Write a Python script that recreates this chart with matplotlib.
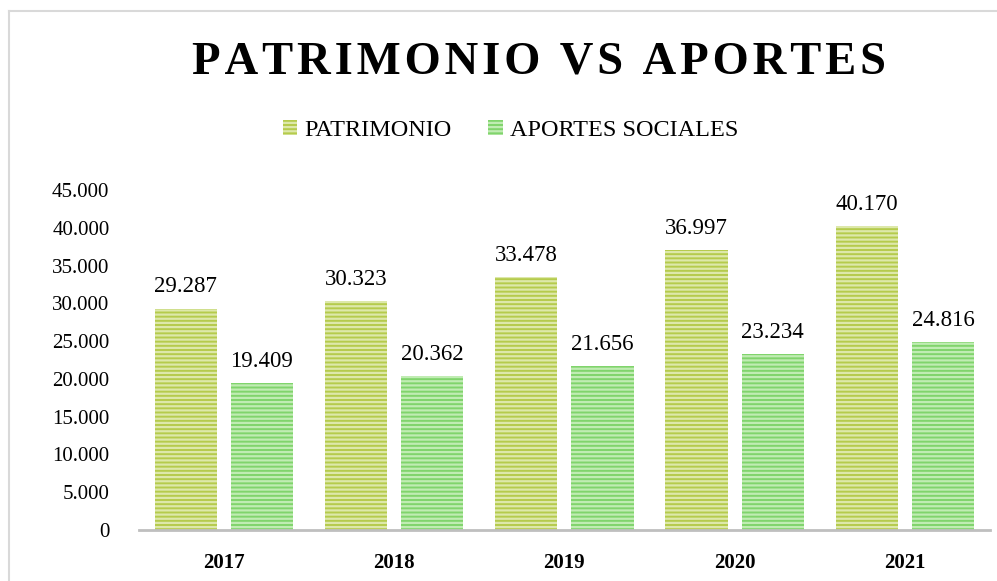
import matplotlib.pyplot as plt
from matplotlib.lines import Line2D
import numpy as np

years = ['2017', '2018', '2019', '2020', '2021']
patrimonio = [29287, 30323, 33478, 36997, 40170]
aportes = [19409, 20362, 21656, 23234, 24816]
yticks = [0, 5000, 10000, 15000, 20000, 25000, 30000, 35000, 40000, 45000]
title = 'PATRIMONIO VS APORTES'


def fmt(v):
    # separador de miles con punto
    return f'{v:,}'.replace(',', '.')


def main():
    plt.rcParams['font.family'] = ['Liberation Serif', 'DejaVu Serif']
    plt.rcParams['hatch.linewidth'] = 1.6

    fig = plt.figure(figsize=(9.97, 5.81), dpi=100)
    ax = fig.add_axes([0.139, 0.088, 0.854, 0.585])

    x = np.arange(len(years))
    w = 0.365
    off = 0.224
    b1 = ax.bar(x - off, patrimonio, w, color='#b5cb4c', edgecolor='#dde8aa',
                linewidth=0, hatch='----', label='PATRIMONIO')
    b2 = ax.bar(x + off, aportes, w, color='#80d46c', edgecolor='#c0ecb3',
                linewidth=0, hatch='----', label='APORTES SOCIALES')

    for bars in (b1, b2):
        for r in bars:
            ax.text(r.get_x() + r.get_width() / 2, r.get_height() + 1500,
                    fmt(int(r.get_height())), ha='center', va='bottom',
                    fontsize=16.5, clip_on=False)

    ax.set_xlim(-0.5, 4.5)
    ax.set_ylim(0, 45000)
    ax.set_xticks(x)
    ax.set_xticklabels(years, fontsize=15, fontweight='bold')
    ax.set_yticks(yticks)
    ax.set_yticklabels([fmt(v) for v in yticks], fontsize=15)
    ax.tick_params(length=0)
    ax.tick_params(axis='x', pad=17)
    ax.tick_params(axis='y', pad=21)
    for s in ('top', 'right', 'left'):
        ax.spines[s].set_visible(False)
    ax.spines['bottom'].set_color('#bfbfbf')
    ax.spines['bottom'].set_linewidth(2)

    # titulo con espaciado entre letras, ajustado al ancho del original
    spaced = '\u200a'.join(title)
    t = fig.text(0.541, 0.893, spaced, ha='center', va='center',
                 fontsize=40, fontweight='bold')
    fig.canvas.draw()
    width = t.get_window_extent().width
    t.set_fontsize(40 * 695 / width)

    fig.legend(handles=[b1, b2], loc='center', bbox_to_anchor=(0.512, 0.776),
               ncol=2, frameon=False, fontsize=17.5, handlelength=0.6,
               handleheight=0.6, columnspacing=1.5, handletextpad=0.3)

    fig.add_artist(Line2D([0.009, 0.009], [0, 0.981], color='#d9d9d9', lw=1.5))
    fig.add_artist(Line2D([0.009, 1], [0.981, 0.981], color='#d9d9d9', lw=1.5))

    fig.savefig('out.png', dpi=100)


if __name__ == '__main__':
    main()
